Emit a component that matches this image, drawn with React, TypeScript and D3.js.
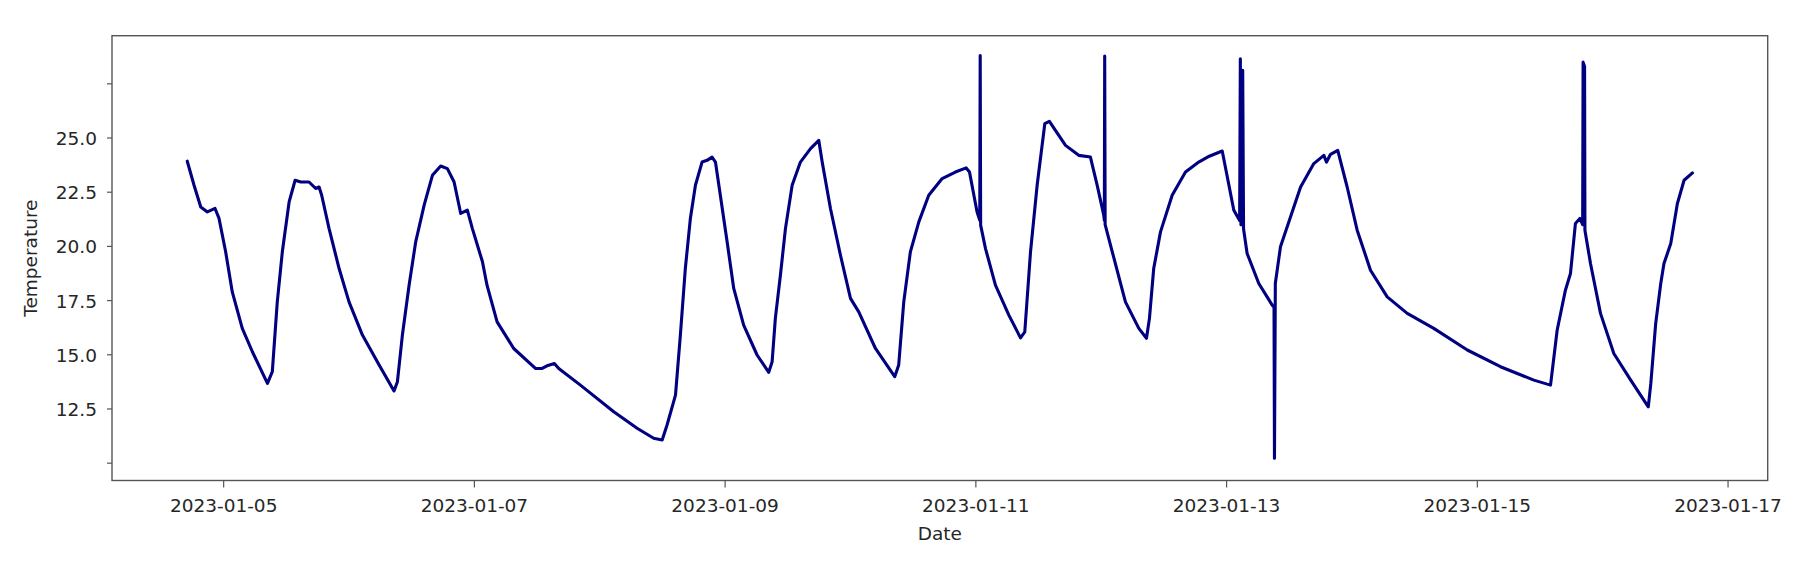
import React from "react";
import * as d3 from "d3";

// Timestamps (UTC) and temperatures
const times: string[] = [
  "2023-01-04 17:02", "2023-01-04 18:20", "2023-01-04 19:37", "2023-01-04 20:53", "2023-01-04 22:21",
  "2023-01-04 23:07", "2023-01-05 00:23", "2023-01-05 01:39", "2023-01-05 03:34", "2023-01-05 05:30",
  "2023-01-05 08:23", "2023-01-05 09:19", "2023-01-05 10:16", "2023-01-05 11:14", "2023-01-05 12:32",
  "2023-01-05 13:41", "2023-01-05 14:46", "2023-01-05 16:21", "2023-01-05 17:37", "2023-01-05 18:16",
  "2023-01-05 18:46", "2023-01-05 20:11", "2023-01-05 22:06", "2023-01-06 00:00", "2023-01-06 02:34",
  "2023-01-06 05:46", "2023-01-06 08:37", "2023-01-06 09:16", "2023-01-06 10:13", "2023-01-06 11:30",
  "2023-01-06 12:46", "2023-01-06 14:23", "2023-01-06 15:58", "2023-01-06 17:33", "2023-01-06 18:50",
  "2023-01-06 20:07", "2023-01-06 21:23", "2023-01-06 22:39", "2023-01-06 23:37", "2023-01-07 01:32",
  "2023-01-07 02:25", "2023-01-07 04:21", "2023-01-07 07:32", "2023-01-07 11:41", "2023-01-07 12:58",
  "2023-01-07 13:55", "2023-01-07 15:19", "2023-01-07 16:09", "2023-01-07 20:18", "2023-01-08 02:41",
  "2023-01-08 07:09", "2023-01-08 10:19", "2023-01-08 11:57", "2023-01-08 12:53", "2023-01-08 14:30",
  "2023-01-08 15:26", "2023-01-08 16:23", "2023-01-08 17:21", "2023-01-08 18:19", "2023-01-08 19:35",
  "2023-01-08 20:33", "2023-01-08 21:30", "2023-01-08 22:09", "2023-01-08 23:05", "2023-01-09 00:23",
  "2023-01-09 01:39", "2023-01-09 03:33", "2023-01-09 06:07", "2023-01-09 08:21", "2023-01-09 09:00",
  "2023-01-09 09:37", "2023-01-09 10:35", "2023-01-09 11:33", "2023-01-09 12:50", "2023-01-09 14:25",
  "2023-01-09 16:21", "2023-01-09 17:56", "2023-01-09 18:35", "2023-01-09 20:10", "2023-01-09 22:05",
  "2023-01-10 00:00", "2023-01-10 01:35", "2023-01-10 04:47", "2023-01-10 08:28", "2023-01-10 09:14",
  "2023-01-10 10:12", "2023-01-10 11:28", "2023-01-10 13:05", "2023-01-10 14:59", "2023-01-10 17:33",
  "2023-01-10 20:05", "2023-01-10 22:09", "2023-01-10 22:47", "2023-01-11 00:14", "2023-01-11 00:45",
  "2023-01-11 00:50", "2023-01-11 00:55", "2023-01-11 01:51", "2023-01-11 03:45", "2023-01-11 06:19",
  "2023-01-11 08:33", "2023-01-11 09:22", "2023-01-11 10:28", "2023-01-11 11:44", "2023-01-11 13:12",
  "2023-01-11 14:05", "2023-01-11 15:14", "2023-01-11 17:10", "2023-01-11 19:42", "2023-01-11 21:56",
  "2023-01-11 23:14", "2023-01-12 00:29", "2023-01-12 00:36", "2023-01-12 00:40", "2023-01-12 00:45",
  "2023-01-12 02:07", "2023-01-12 04:38", "2023-01-12 07:12", "2023-01-12 08:40", "2023-01-12 09:14",
  "2023-01-12 10:03", "2023-01-12 11:21", "2023-01-12 13:35", "2023-01-12 16:08", "2023-01-12 18:40",
  "2023-01-12 20:41", "2023-01-12 23:10", "2023-01-13 01:23", "2023-01-13 02:30", "2023-01-13 02:38",
  "2023-01-13 02:45", "2023-01-13 03:05", "2023-01-13 03:15", "2023-01-13 03:56", "2023-01-13 06:10",
  "2023-01-13 08:44", "2023-01-13 09:05", "2023-01-13 09:10", "2023-01-13 09:20", "2023-01-13 10:19",
  "2023-01-13 12:14", "2023-01-13 14:10", "2023-01-13 16:42", "2023-01-13 18:37", "2023-01-13 19:08",
  "2023-01-13 19:54", "2023-01-13 21:17", "2023-01-13 23:05", "2023-01-14 01:00", "2023-01-14 03:33",
  "2023-01-14 06:45", "2023-01-14 10:35", "2023-01-14 15:40", "2023-01-14 22:05", "2023-01-15 04:26",
  "2023-01-15 10:49", "2023-01-15 14:01", "2023-01-15 15:17", "2023-01-15 16:52", "2023-01-15 17:50",
  "2023-01-15 18:47", "2023-01-15 19:38", "2023-01-15 20:10", "2023-01-15 20:15", "2023-01-15 20:32",
  "2023-01-15 20:36", "2023-01-15 21:40", "2023-01-15 23:35", "2023-01-16 02:08", "2023-01-16 05:22",
  "2023-01-16 08:44", "2023-01-16 09:13", "2023-01-16 10:09", "2023-01-16 11:07", "2023-01-16 11:44",
  "2023-01-16 13:02", "2023-01-16 14:18", "2023-01-16 15:35", "2023-01-16 17:11",
];

const temps: number[] = [
  23.93, 22.82, 21.82, 21.59, 21.75,
  21.29, 19.75, 17.9, 16.22, 15.14,
  13.68, 14.22, 17.44, 19.75, 22.05,
  23.05, 22.97, 22.97, 22.67, 22.74,
  22.36, 20.82, 18.98, 17.44, 15.91,
  14.53, 13.33, 13.76, 15.91, 18.21,
  20.21, 21.9, 23.28, 23.71, 23.59,
  22.97, 21.52, 21.67, 20.82, 19.3,
  18.21, 16.52, 15.29, 14.37, 14.37,
  14.49, 14.6, 14.37, 13.6, 12.37,
  11.61, 11.15, 11.07, 11.76, 13.14,
  15.91, 18.98, 21.29, 22.82, 23.89,
  23.97, 24.12, 23.89, 22.36, 20.21,
  18.06, 16.37, 14.99, 14.19, 14.68,
  16.68, 18.67, 20.82, 22.82, 23.89,
  24.51, 24.89, 23.89, 21.75, 19.59,
  17.6, 16.98, 15.29, 13.99, 14.53,
  17.44, 19.75, 21.13, 22.36, 23.13,
  23.43, 23.62, 23.43, 21.59, 21.2,
  28.81, 20.98, 19.9, 18.21, 16.83,
  15.78, 16.06, 19.75, 22.82, 25.66,
  25.77, 25.35, 24.66, 24.2, 24.12,
  22.82, 21.44, 21.2, 28.78, 21.0,
  19.75, 17.44, 16.22, 15.76, 16.68,
  18.98, 20.67, 22.36, 23.43, 23.89,
  24.16, 24.4, 21.67, 21.2, 28.66,
  21.0, 28.12, 20.8, 19.67, 18.29,
  17.29, 17.2, 10.23, 18.3, 19.98,
  21.36, 22.74, 23.82, 24.2, 23.89,
  24.25, 24.43, 22.74, 20.75, 18.9,
  17.67, 16.91, 16.22, 15.22, 14.45,
  13.83, 13.6, 16.13, 17.98, 18.75,
  21.06, 21.29, 21.0, 28.5, 28.3,
  20.75, 19.21, 16.91, 15.06, 13.83,
  12.6, 13.68, 16.45, 18.29, 19.21,
  20.13, 21.98, 23.05, 23.39,
];

const xTickDates: string[] = [
  "2023-01-05", "2023-01-07", "2023-01-09", "2023-01-11", "2023-01-13", "2023-01-15", "2023-01-17",
];
const yTickValues: number[] = [10, 12.5, 15, 17.5, 20, 22.5, 25, 27.5];
const yTickLabels: string[] = ["", "12.5", "15.0", "17.5", "20.0", "22.5", "25.0", ""];
const yDomain: number[] = [9.2, 29.72];

const FONT = "'DejaVu Sans', sans-serif";

export default function App() {
  const W = 1808;
  const H = 564;
  const left = 112;
  const right = 1767.7;
  const top = 35.7;
  const bottom = 480.5;

  const parseT = d3.utcParse("%Y-%m-%d %H:%M");
  const parseD = d3.utcParse("%Y-%m-%d");
  const dates = times.map((t) => parseT(t) as Date);
  const ext = d3.extent(dates) as [Date, Date];
  const span = +ext[1] - +ext[0];
  const x = d3
    .scaleUtc()
    .domain([new Date(+ext[0] - 0.05 * span), new Date(+ext[1] + 0.05 * span)])
    .range([left, right]);
  const y = d3.scaleLinear().domain(yDomain).range([bottom, top]);

  const pts: [Date, number][] = dates.map((d, i) => [d, temps[i]]);
  const line = d3
    .line<[Date, number]>()
    .x((d) => x(d[0]))
    .y((d) => y(d[1]));
  const fmt = d3.utcFormat("%Y-%m-%d");

  return (
    <div style={{ position: "absolute", left: 0, top: 0 }}>
      <svg width={W} height={H} style={{ display: "block", background: "#fff" }}>
        <path
          d={line(pts) || ""}
          fill="none"
          stroke="#000080"
          strokeWidth={3.1}
          strokeLinejoin="round"
          strokeLinecap="round"
        />
        <rect
          x={left}
          y={top}
          width={right - left}
          height={bottom - top}
          fill="none"
          stroke="#555"
          strokeWidth={1.4}
        />
        {xTickDates.map((s) => {
          const d = parseD(s) as Date;
          const xx = x(d);
          return (
            <g key={s}>
              <line x1={xx} x2={xx} y1={bottom} y2={bottom + 7} stroke="#555" strokeWidth={1.2} />
              <text
                x={xx}
                y={511.5}
                textAnchor="middle"
                fontFamily={FONT}
                fontSize={18.5}
                fill="#262626"
              >
                {fmt(d)}
              </text>
            </g>
          );
        })}
        {yTickValues.map((v, i) => {
          const yy = y(v);
          return (
            <g key={v}>
              <line x1={left - 5} x2={left} y1={yy} y2={yy} stroke="#555" strokeWidth={1.2} />
              {yTickLabels[i] ? (
                <text
                  x={97}
                  y={yy + 7}
                  textAnchor="end"
                  fontFamily={FONT}
                  fontSize={18.5}
                  fill="#262626"
                >
                  {yTickLabels[i]}
                </text>
              ) : null}
            </g>
          );
        })}
        <text
          x={(left + right) / 2}
          y={540}
          textAnchor="middle"
          fontFamily={FONT}
          fontSize={18.5}
          fill="#262626"
        >
          Date
        </text>
        <text
          transform={`translate(37, ${(top + bottom) / 2}) rotate(-90)`}
          textAnchor="middle"
          fontFamily={FONT}
          fontSize={18.5}
          fill="#262626"
        >
          Temperature
        </text>
      </svg>
    </div>
  );
}
